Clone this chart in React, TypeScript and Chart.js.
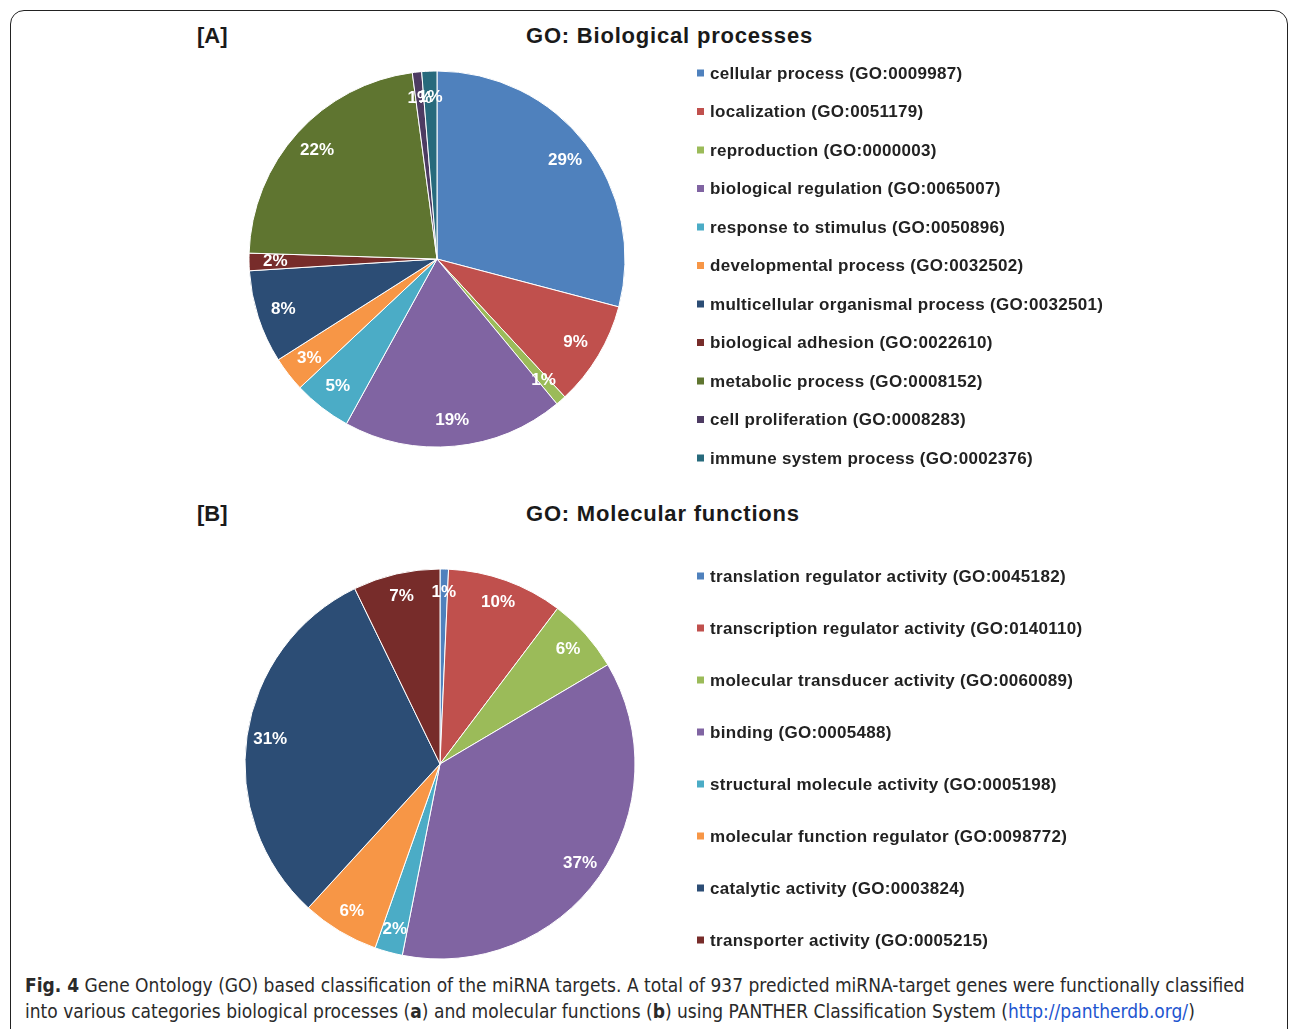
import React, { useEffect, useRef } from 'react';
import { Chart, registerables } from 'chart.js';

Chart.register(...registerables);

const bpLabels = [
  'cellular process (GO:0009987)',
  'localization (GO:0051179)',
  'reproduction (GO:0000003)',
  'biological regulation (GO:0065007)',
  'response to stimulus (GO:0050896)',
  'developmental process (GO:0032502)',
  'multicellular organismal process (GO:0032501)',
  'biological adhesion (GO:0022610)',
  'metabolic process (GO:0008152)',
  'cell proliferation (GO:0008283)',
  'immune system process (GO:0002376)',
];
const bpValues = [29.1, 9.0, 0.9, 19.0, 5.0, 3.0, 8.0, 1.5, 22.4, 0.8, 1.3];
const bpColors = [
  '#4F81BD', '#C0504D', '#9BBB59', '#8064A2', '#4BACC6', '#F79646',
  '#2C4D75', '#772C2A', '#5F7530', '#4D3B62', '#276A7C',
];

const mfLabels = [
  'translation regulator activity (GO:0045182)',
  'transcription regulator activity (GO:0140110)',
  'molecular transducer activity (GO:0060089)',
  'binding (GO:0005488)',
  'structural molecule activity (GO:0005198)',
  'molecular function regulator (GO:0098772)',
  'catalytic activity (GO:0003824)',
  'transporter activity (GO:0005215)',
];
const mfValues = [0.7, 9.6, 6.2, 36.6, 2.3, 6.4, 31.0, 7.2];
const mfColors = [
  '#4F81BD', '#C0504D', '#9BBB59', '#8064A2', '#4BACC6', '#F79646', '#2C4D75', '#772C2A',
];

const FONT = '"Liberation Sans", Arial, Helvetica, sans-serif';

type PieProps = {
  left: number; top: number; width: number; height: number;
  cx: number; cy: number; r: number;
  labels: string[]; values: number[]; colors: string[];
  legX: number; legY: number; legStep: number; labelDist: number;
};

function PieBlock(p: PieProps) {
  const ref = useRef<HTMLCanvasElement>(null);
  useEffect(() => {
    if (!ref.current) return;
    const total = p.values.reduce((a, b) => a + b, 0);
    const plugin = {
      id: 'pieLabelsAndLegend',
      afterDatasetsDraw(chart: any) {
        const ctx = chart.ctx as CanvasRenderingContext2D;
        const meta = chart.getDatasetMeta(0);
        ctx.save();
        ctx.font = `bold 17px ${FONT}`;
        ctx.fillStyle = '#ffffff';
        ctx.textAlign = 'center';
        ctx.textBaseline = 'middle';
        meta.data.forEach((arc: any, i: number) => {
          const pr = arc.getProps(['x', 'y', 'startAngle', 'endAngle', 'outerRadius'], true);
          const mid = (pr.startAngle + pr.endAngle) / 2;
          const d = pr.outerRadius * p.labelDist;
          const txt = Math.round((p.values[i] / total) * 100 + 1e-6) + '%';
          ctx.fillText(txt, pr.x + Math.cos(mid) * d, pr.y + Math.sin(mid) * d);
        });
        ctx.textAlign = 'left';
        ctx.font = `bold 17px ${FONT}`;
        (ctx as any).letterSpacing = '0.3px';
        p.labels.forEach((lab, i) => {
          const yy = p.legY + i * p.legStep;
          ctx.fillStyle = p.colors[i];
          ctx.fillRect(p.legX, yy - 3.5, 7, 7);
          ctx.fillStyle = '#222222';
          ctx.fillText(lab, p.legX + 13, yy + 1);
        });
        ctx.restore();
      },
    };
    const rx = p.cx - p.left;
    const ry = p.cy - p.top;
    const chart = new Chart(ref.current, {
      type: 'pie',
      data: {
        labels: p.labels,
        datasets: [
          {
            data: p.values,
            backgroundColor: p.colors,
            borderColor: '#ffffff',
            borderWidth: 1,
            hoverOffset: 0,
            radius: p.r,
          } as any,
        ],
      },
      options: {
        responsive: false,
        animation: false,
        events: [],
        layout: {
          padding: {
            left: rx - p.r - 2,
            top: ry - p.r - 2,
            right: p.width - rx - p.r - 2,
            bottom: p.height - ry - p.r - 2,
          },
        },
        plugins: {
          legend: { display: false },
          tooltip: { enabled: false },
        },
      } as any,
      plugins: [plugin],
    });
    return () => chart.destroy();
  }, []);
  return (
    <canvas
      ref={ref}
      width={p.width}
      height={p.height}
      style={{ position: 'absolute', left: p.left, top: p.top, width: p.width, height: p.height }}
    />
  );
}

const titleStyle: React.CSSProperties = {
  position: 'absolute',
  fontFamily: FONT,
  fontWeight: 'bold',
  fontSize: 22,
  lineHeight: '24px',
  color: '#1a1a1a',
  whiteSpace: 'nowrap',
};

export default function App() {
  return (
    <div
      style={{
        position: 'absolute',
        left: 0,
        top: 0,
        width: 1290,
        height: 1029,
        overflow: 'hidden',
        background: '#ffffff',
      }}
    >
      <div
        style={{
          position: 'absolute',
          left: 10,
          top: 10,
          width: 1278,
          height: 1060,
          border: '1.5px solid #222',
          borderRadius: 14,
          boxSizing: 'border-box',
        }}
      />
      <div style={{ ...titleStyle, left: 197, top: 24 }}>[A]</div>
      <div style={{ ...titleStyle, left: 526, top: 24, letterSpacing: '0.8px' }}>GO: Biological processes</div>
      <div style={{ ...titleStyle, left: 197, top: 502 }}>[B]</div>
      <div style={{ ...titleStyle, left: 526, top: 502, letterSpacing: '0.8px' }}>GO: Molecular functions</div>

      <PieBlock
        left={230} top={55} width={900} height={420}
        cx={437} cy={259} r={188}
        labels={bpLabels} values={bpValues} colors={bpColors}
        legX={467} legY={18} legStep={38.5} labelDist={0.86}
      />
      <PieBlock
        left={230} top={560} width={900} height={410}
        cx={440} cy={764} r={195}
        labels={mfLabels} values={mfValues} colors={mfColors}
        legX={467} legY={16} legStep={52} labelDist={0.88}
      />

      <div
        style={{
          position: 'absolute',
          left: 25,
          top: 972,
          fontFamily: '"Liberation Sans Narrow", "DejaVu Sans Condensed", "Liberation Sans", sans-serif',
          fontSize: 19,
          lineHeight: '26px',
          color: '#2a2a2a',
          whiteSpace: 'nowrap',
        }}
      >
        <div>
          <b>Fig. 4</b> Gene Ontology (GO) based classification of the miRNA targets. A total of 937 predicted miRNA-target genes were functionally classified
        </div>
        <div>
          into various categories biological processes (<b>a</b>) and molecular functions (<b>b</b>) using PANTHER Classification System (
          <span style={{ color: '#1d55d0' }}>http://pantherdb.org/</span>)
        </div>
      </div>
    </div>
  );
}
